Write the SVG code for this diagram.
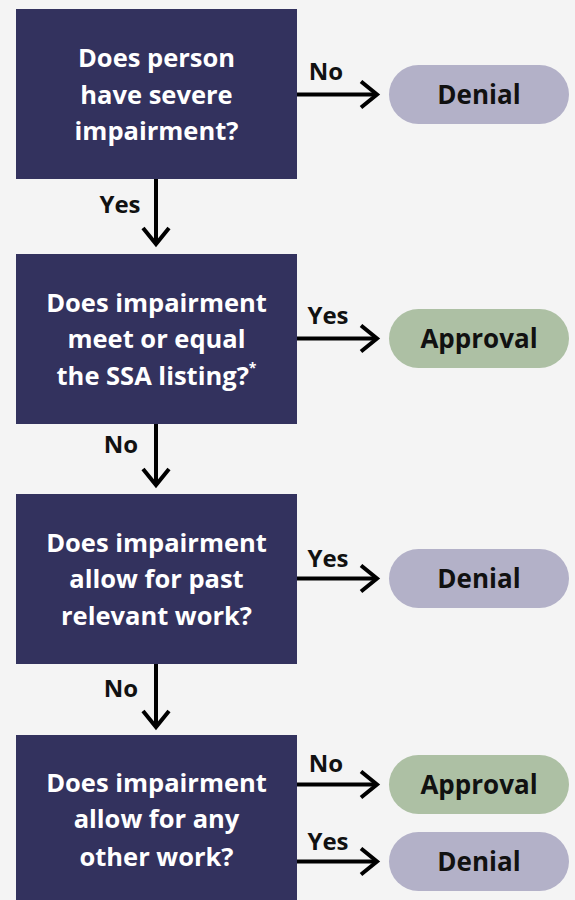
<svg xmlns="http://www.w3.org/2000/svg" width="575" height="900" viewBox="0 0 575 900">
<style>
.q{fill:#33325e}
.deny{fill:#b3b1c8}
.ok{fill:#adc0a4}
.qt{font-family:"Open Sans",Lato,"Liberation Sans",sans-serif;font-weight:700;font-size:25.5px;fill:#ffffff;text-anchor:middle}
.pt{font-family:"Open Sans",Lato,"Liberation Sans",sans-serif;font-weight:700;font-size:26px;fill:#111111;text-anchor:middle}
.lb{font-family:"Open Sans",Lato,"Liberation Sans",sans-serif;font-weight:700;font-size:24px;fill:#111111;text-anchor:middle}
.ln{stroke:#000;stroke-width:4;fill:none}
</style>
<defs>
<marker id="ah" markerUnits="userSpaceOnUse" markerWidth="30" markerHeight="30" viewBox="-20 -15 22 30" refX="0" refY="0" orient="auto">
<path d="M-16 -13 L0 0 L-16 13" fill="none" stroke="#000" stroke-width="4"/>
</marker>
</defs>
<rect width="575" height="900" fill="#f4f4f4"/>
<g id="q1"><rect class="q" x="16" y="9" width="281" height="170"/>
<text class="qt" x="156.5" y="67">Does person</text><text class="qt" x="156.5" y="104">have severe</text><text class="qt" x="156.5" y="140">impairment?</text></g>
<g id="r1"><rect class="deny" x="389" y="65" width="180" height="59" rx="29.5"/><text class="pt" x="479" y="104">Denial</text></g>
<g id="q2"><rect class="q" x="16" y="254" width="281" height="170"/>
<text class="qt" x="156.5" y="312">Does impairment</text><text class="qt" x="156.5" y="348">meet or equal</text><text class="qt" x="156.5" y="385">the SSA listing?<tspan font-size="14" dy="-12">*</tspan></text></g>
<g id="r2"><rect class="ok" x="389" y="309" width="180" height="59" rx="29.5"/><text class="pt" x="479" y="348">Approval</text></g>
<g id="q3"><rect class="q" x="16" y="494" width="281" height="170"/>
<text class="qt" x="156.5" y="552">Does impairment</text><text class="qt" x="156.5" y="588">allow for past</text><text class="qt" x="156.5" y="625">relevant work?</text></g>
<g id="r3"><rect class="deny" x="389" y="549" width="180" height="59" rx="29.5"/><text class="pt" x="479" y="588">Denial</text></g>
<g id="q4"><rect class="q" x="16" y="735" width="281" height="170"/>
<text class="qt" x="156.5" y="792">Does impairment</text><text class="qt" x="156.5" y="828">allow for any</text><text class="qt" x="156.5" y="866">other work?</text></g>
<g id="r4"><rect class="ok" x="389" y="755" width="180" height="59" rx="29.5"/><text class="pt" x="479" y="794">Approval</text></g>
<g id="r5"><rect class="deny" x="389" y="832" width="180" height="59" rx="29.5"/><text class="pt" x="479" y="871">Denial</text></g>
<g id="connectors">
<line class="ln" x1="297" y1="94.5" x2="377" y2="94.5" marker-end="url(#ah)"/>
<line class="ln" x1="156" y1="179" x2="156" y2="244" marker-end="url(#ah)"/>
<line class="ln" x1="297" y1="338.5" x2="377" y2="338.5" marker-end="url(#ah)"/>
<line class="ln" x1="156" y1="424" x2="156" y2="485" marker-end="url(#ah)"/>
<line class="ln" x1="297" y1="578.5" x2="377" y2="578.5" marker-end="url(#ah)"/>
<line class="ln" x1="156" y1="664" x2="156" y2="727" marker-end="url(#ah)"/>
<line class="ln" x1="297" y1="784.5" x2="377" y2="784.5" marker-end="url(#ah)"/>
<line class="ln" x1="297" y1="861.5" x2="377" y2="861.5" marker-end="url(#ah)"/>
<text class="lb" x="326" y="80">No</text>
<text class="lb" x="120" y="213">Yes</text>
<text class="lb" x="328" y="324">Yes</text>
<text class="lb" x="121" y="453">No</text>
<text class="lb" x="328" y="567">Yes</text>
<text class="lb" x="121" y="697">No</text>
<text class="lb" x="326" y="772">No</text>
<text class="lb" x="328" y="850">Yes</text>
</g>
</svg>
